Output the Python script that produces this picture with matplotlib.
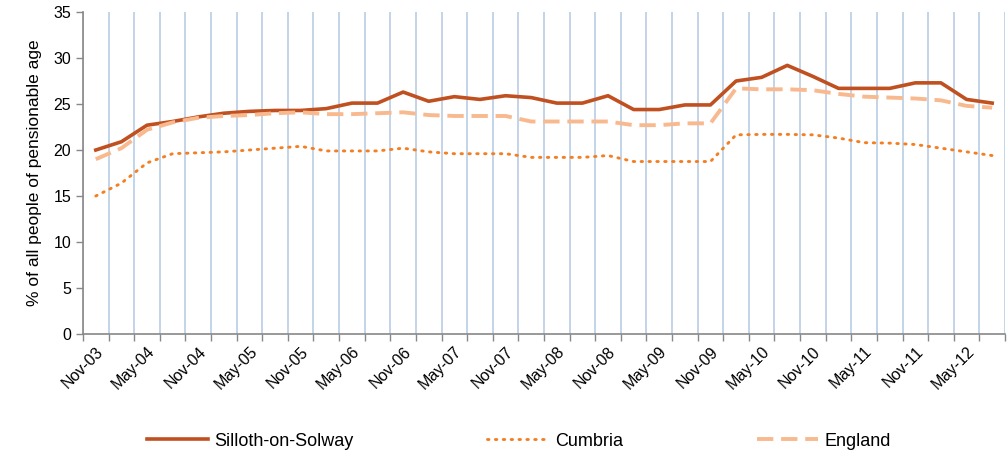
import matplotlib
matplotlib.use('Agg')
import matplotlib.pyplot as plt

plt.rcParams['font.family'] = ['Liberation Sans', 'DejaVu Sans']

# quarterly, Nov-03 .. Aug-12
quarters = []
for yr in range(3, 13):
    for mon in ['Feb', 'May', 'Aug', 'Nov']:
        quarters.append(f'{mon}-{yr:02d}')
quarters = quarters[quarters.index('Nov-03'):quarters.index('Aug-12') + 1]

silloth = [20.0, 20.9, 22.7, 23.1, 23.6, 24.0, 24.2, 24.3, 24.3, 24.5, 25.1, 25.1,
           26.3, 25.3, 25.8, 25.5, 25.9, 25.7, 25.1, 25.1, 25.9, 24.4, 24.4, 24.9,
           24.9, 27.5, 27.9, 29.2, 28.0, 26.7, 26.7, 26.7, 27.3, 27.3, 25.5, 25.1]
cumbria = [15.0, 16.4, 18.6, 19.6, 19.7, 19.8, 20.0, 20.2, 20.4, 19.9, 19.9, 19.9,
           20.2, 19.8, 19.6, 19.6, 19.6, 19.2, 19.2, 19.2, 19.4, 18.75, 18.75, 18.75,
           18.75, 21.65, 21.7, 21.7, 21.65, 21.3, 20.8, 20.75, 20.6, 20.2, 19.8, 19.4]
england = [19.0, 20.2, 22.2, 23.0, 23.5, 23.7, 23.8, 24.0, 24.1, 23.9, 23.9, 24.0,
           24.1, 23.8, 23.7, 23.7, 23.7, 23.1, 23.1, 23.1, 23.1, 22.7, 22.7, 22.9,
           22.9, 26.7, 26.6, 26.6, 26.5, 26.1, 25.8, 25.7, 25.6, 25.4, 24.8, 24.6]

fig = plt.figure(figsize=(10.07, 4.57), dpi=100)
ax = fig.add_axes([0.0824, 0.2691, 0.9156, 0.7046])

x = list(range(len(quarters)))
ax.plot(x, silloth, color='#C0501F', lw=2.6, label='Silloth-on-Solway')
ax.plot(x, cumbria, color='#F47F22', lw=2.1, linestyle=(0, (0.5, 2.2)),
        dash_capstyle='round', label='Cumbria')
ax.plot(x, england, color='#F9B98E', lw=2.8, linestyle=(0, (4.2, 2.0)), label='England')

ax.set_xlim(-0.5, len(quarters) - 0.5)
ax.set_ylim(0, 35)
ax.set_yticks(range(0, 36, 5))

# labels every other quarter, ticks/grid on category boundaries
ax.set_xticks(x[::2])
ax.set_xticklabels(quarters[::2], rotation=45, ha='right', rotation_mode='anchor')
ax.set_xticks([i - 0.5 for i in range(len(quarters) + 1)], minor=True)
ax.tick_params(axis='x', which='major', length=0, labelsize=11.5, pad=7)
ax.tick_params(axis='x', which='minor', length=5, color='#888888', width=1)
ax.tick_params(axis='y', length=5, color='#888888', width=1, labelsize=11.5)
ax.grid(which='minor', axis='x', color='#B9CDE5', lw=1.2)
ax.set_axisbelow(True)

for s in ['top', 'right']:
    ax.spines[s].set_visible(False)
for s in ['left', 'bottom']:
    ax.spines[s].set_color('#888888')
    ax.spines[s].set_linewidth(1.2)

ax.set_ylabel('% of all people of pensionable age', fontsize=12.5, labelpad=8)

fig.legend(loc='center', bbox_to_anchor=(0.515, 0.035), ncol=3, frameon=False,
           fontsize=13, handlelength=3.4, columnspacing=7.4, handletextpad=0.35)

fig.savefig('out.png', dpi=100)
